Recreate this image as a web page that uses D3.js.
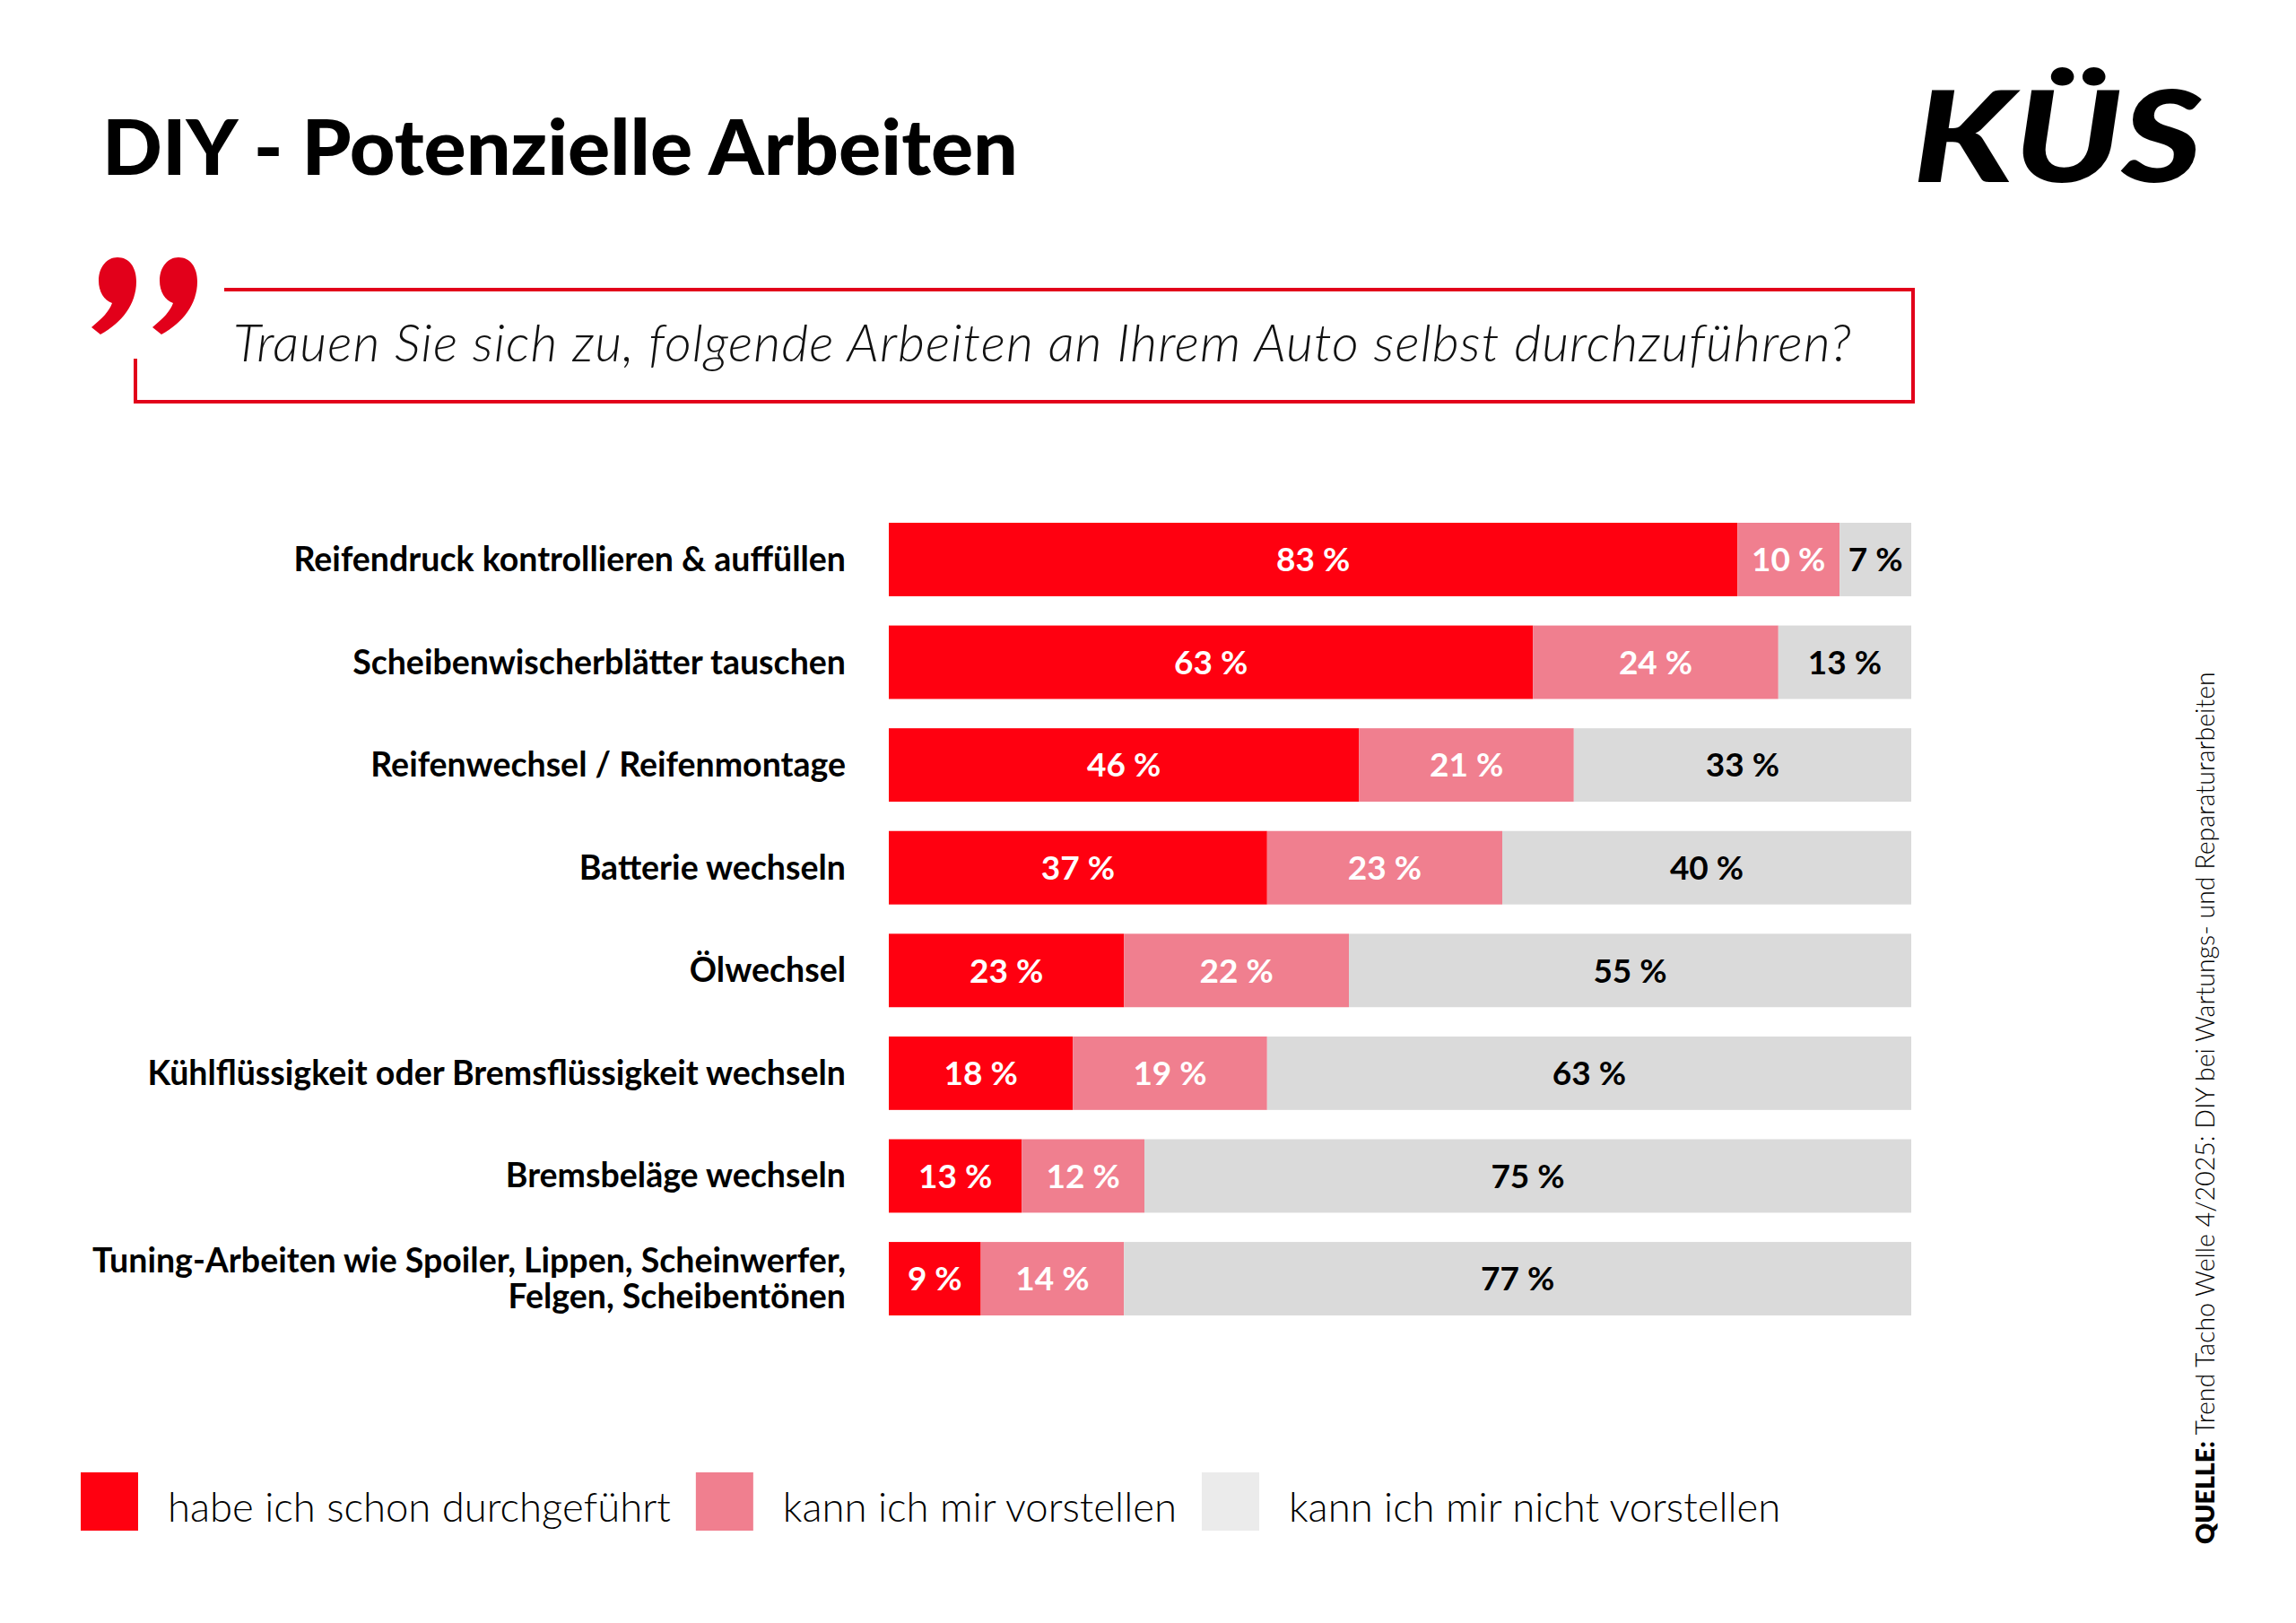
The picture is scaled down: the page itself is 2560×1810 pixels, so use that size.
<!DOCTYPE html>
<html>
<head>
<meta charset="utf-8">
<script src="https://cdn.jsdelivr.net/npm/d3@7"></script>
<style>
  body { margin: 0; background: #fff; }
  svg text { font-family: Lato, "Noto Sans", sans-serif; }
</style>
</head>
<body>
<div id="chart"></div>
<script>
// --- data ---
const tasks = [
  "Reifendruck kontrollieren & auffüllen",
  "Scheibenwischerblätter tauschen",
  "Reifenwechsel / Reifenmontage",
  "Batterie wechseln",
  "Ölwechsel",
  "Kühlflüssigkeit oder Bremsflüssigkeit wechseln",
  "Bremsbeläge wechseln",
  "Tuning-Arbeiten wie Spoiler, Lippen, Scheinwerfer,\nFelgen, Scheibentönen"
];
const done          = [83, 63, 46, 37, 23, 18, 13, 9];
const imaginable    = [10, 24, 21, 23, 22, 19, 12, 14];
const notImaginable = [ 7, 13, 33, 40, 55, 63, 75, 77];
const seriesNames = ["habe ich schon durchgeführt", "kann ich mir vorstellen", "kann ich mir nicht vorstellen"];

const width = 2560, height = 1810;
const RED = "#ff0010", PINK = "#f07f8f", GREY = "#dadada", BRAND = "#e2001a";

const svg = d3.select("#chart")
  .append("svg")
  .attr("width", width)
  .attr("height", height)
  .attr("viewBox", [0, 0, width, height]);

// title
svg.append("text")
  .attr("x", 114).attr("y", 195)
  .attr("textLength", 1021).attr("lengthAdjust", "spacingAndGlyphs")
  .style("font-size", "86px").style("font-weight", 900)
  .attr("fill", "#000")
  .text("DIY - Potenzielle Arbeiten");

// logo
svg.append("text")
  .attr("x", 2133).attr("y", 203)
  .attr("textLength", 322).attr("lengthAdjust", "spacingAndGlyphs")
  .style("font-size", "142px").style("font-weight", 900).style("font-style", "italic")
  .attr("fill", "#000")
  .text("KÜS");

// question box with quote mark
svg.append("path")
  .attr("d", "M250,323 H2133 V448 H151 V400")
  .attr("fill", "none")
  .attr("stroke", BRAND)
  .attr("stroke-width", 4);

// two "9"-shaped quote blobs
const quoteShape = "M31,0 C44,0 52,11 52,27 C52,52 36,73 12,86 L2,78 C14,68 22,60 25,51 C16,48 10,38 10,26 C10,11 19,0 31,0 Z";
svg.append("g").selectAll("path")
  .data([100, 168])
  .join("path")
  .attr("transform", d => `translate(${d},287)`)
  .attr("d", quoteShape)
  .attr("fill", BRAND);

svg.append("text")
  .attr("x", 260).attr("y", 403)
  .attr("textLength", 1804).attr("lengthAdjust", "spacing")
  .style("font-size", "58px").style("font-weight", 300).style("font-style", "italic")
  .attr("fill", "#111")
  .text("Trauen Sie sich zu, folgende Arbeiten an Ihrem Auto selbst durchzuführen?");

// scales
const rows = tasks.map((t, i) => ({task: t, s0: done[i], s1: imaginable[i], s2: notImaginable[i]}));
const keys = ["s0", "s1", "s2"];
const stack = d3.stack().keys(keys)(rows);

const x = d3.scaleLinear().domain([0, 100]).range([991, 2131]);
const y = d3.scaleBand().domain(tasks).range([583, 1467]).paddingInner(0.285).paddingOuter(0);
const color = d3.scaleOrdinal().domain(keys).range([RED, PINK, GREY]);
const textColor = d3.scaleOrdinal().domain(keys).range(["#fff", "#fff", "#000"]);

// bars
const layer = svg.append("g").attr("class", "bars")
  .selectAll("g")
  .data(stack)
  .join("g")
  .attr("fill", d => color(d.key));

layer.selectAll("rect")
  .data(d => d)
  .join("rect")
  .attr("x", d => x(d[0]))
  .attr("y", d => y(d.data.task))
  .attr("width", d => x(d[1]) - x(d[0]))
  .attr("height", y.bandwidth());

// value labels
const vals = svg.append("g").attr("class", "values")
  .selectAll("g")
  .data(stack)
  .join("g")
  .attr("fill", d => textColor(d.key));

vals.selectAll("text")
  .data(d => d)
  .join("text")
  .attr("x", d => (x(d[0]) + x(d[1])) / 2)
  .attr("y", d => y(d.data.task) + y.bandwidth() / 2)
  .attr("dy", "0.36em")
  .attr("text-anchor", "middle")
  .style("font-size", "37px").style("font-weight", 700)
  .text(d => `${d[1] - d[0]} %`);

// category labels
const labels = svg.append("g").attr("class", "labels")
  .selectAll("text")
  .data(tasks)
  .join("text")
  .attr("text-anchor", "end")
  .attr("fill", "#000")
  .style("font-size", "37.5px").style("font-weight", 700);

labels.each(function(t) {
  const lines = t.split("\n");
  const cy = y(t) + y.bandwidth() / 2 + 13 - (lines.length - 1) * 20;
  d3.select(this).selectAll("tspan")
    .data(lines)
    .join("tspan")
    .attr("x", 943)
    .attr("y", (l, i) => cy + i * 40)
    .text(l => l);
});

// legend
const legendColors = [RED, PINK, "#ebebeb"];
let lx = 90;
seriesNames.forEach((name, i) => {
  svg.append("rect")
    .attr("x", lx).attr("y", 1642)
    .attr("width", 64).attr("height", 65)
    .attr("fill", legendColors[i]);
  const t = svg.append("text")
    .attr("x", lx + 97).attr("y", 1697)
    .style("font-size", "45.5px").style("font-weight", 300)
    .attr("fill", "#000")
    .text(name);
  lx = lx + 97 + t.node().getComputedTextLength() + 28;
});

// source
const src = svg.append("text")
  .attr("transform", "translate(2469,1722) rotate(-90)")
  .style("font-size", "28.5px")
  .attr("fill", "#000");
src.append("tspan").style("font-weight", 800).text("QUELLE:");
src.append("tspan").style("font-weight", 300).text(" Trend Tacho Welle 4/2025: DIY bei Wartungs- und Reparaturarbeiten");
</script>
</body>
</html>
